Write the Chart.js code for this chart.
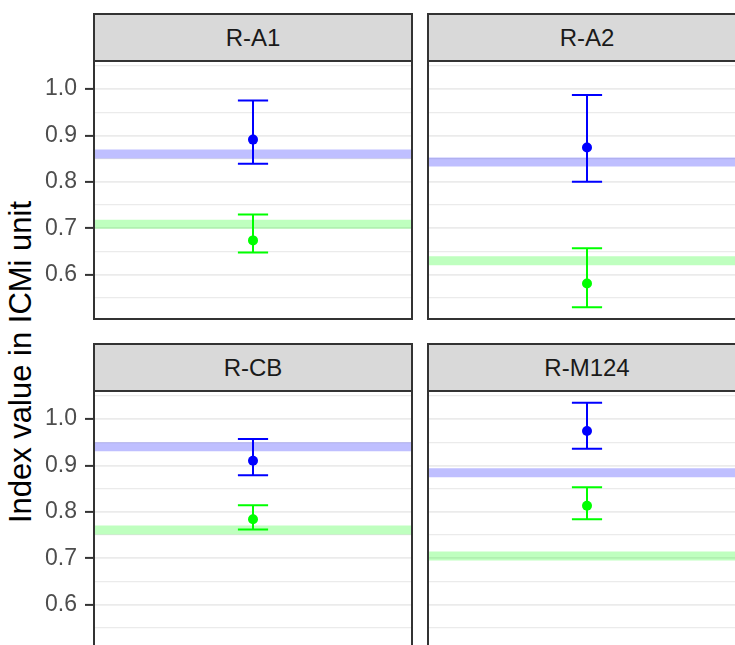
<!DOCTYPE html>
<html><head><meta charset="utf-8">
<script src="https://cdn.jsdelivr.net/npm/chart.js@4.4.1/dist/chart.umd.min.js"></script>
<style>
html,body{margin:0;padding:0;width:735px;height:645px;overflow:hidden;background:#fff;position:relative;}
.strip{position:absolute;box-sizing:border-box;background:#D9D9D9;border:2px solid #333;color:#1A1A1A;font:24px "Liberation Sans",Arial,sans-serif;display:flex;align-items:center;justify-content:center;}
canvas{position:absolute;}
#ytitle{position:absolute;left:21px;top:362px;transform:translate(-50%,-50%) rotate(-90deg);white-space:nowrap;font:31px "Liberation Sans",Arial,sans-serif;color:#000;}
</style></head><body>
<div id="ytitle">Index value in ICMi unit</div>
<script>
// ---- data ----
const PANELS = ["R-A1", "R-A2", "R-CB", "R-M124"];
const BLUE_MEAN  = [0.891, 0.874, 0.910, 0.974];
const BLUE_LOW   = [0.839, 0.800, 0.879, 0.936];
const BLUE_HIGH  = [0.975, 0.987, 0.957, 1.035];
const BLUE_REF   = [0.860, 0.843, 0.940, 0.884];
const GREEN_MEAN = [0.674, 0.581, 0.784, 0.813];
const GREEN_LOW  = [0.648, 0.530, 0.762, 0.784];
const GREEN_HIGH = [0.730, 0.657, 0.814, 0.853];
const GREEN_REF  = [0.709, 0.630, 0.761, 0.705];
const GRID_TICKS  = [0.55, 0.60, 0.65, 0.70, 0.75, 0.80, 0.85, 0.90, 0.95, 1.00, 1.05];
const MAJOR_TICKS = [0.6, 0.7, 0.8, 0.9, 1.0];
const TICK_LABELS = ["0.6", "0.7", "0.8", "0.9", "1.0"];

// shared y limits (ggplot-style 5% expansion of data range)
const allVals = [].concat(BLUE_LOW, BLUE_HIGH, BLUE_REF, GREEN_LOW, GREEN_HIGH, GREEN_REF);
const dMin = Math.min(...allVals), dMax = Math.max(...allVals);
const YMIN = dMin - 0.05 * (dMax - dMin), YMAX = dMax + 0.05 * (dMax - dMin);

// ---- layout ----
const PANEL_LEFT = [94, 428], PANEL_TOP = [61, 391], PANEL_W = 318, PANEL_H = 258, STRIP_H = 48;
const FONT = "'Liberation Sans', Arial, sans-serif";
const isMajor = v => MAJOR_TICKS.some(m => Math.abs(m - v) < 1e-9);

const errorBarPlugin = {
  id: 'errbars',
  afterDatasetsDraw(chart) {
    const i = chart.options.plugins.errbars.panel;
    const xs = chart.scales.x, ys = chart.scales.y, ctx = chart.ctx;
    const series = [
      {c: '#0000FF', lo: BLUE_LOW[i], hi: BLUE_HIGH[i]},
      {c: '#00FF00', lo: GREEN_LOW[i], hi: GREEN_HIGH[i]}
    ];
    const xc = xs.getPixelForValue(1), x0 = xs.getPixelForValue(1 - 0.057), x1 = xs.getPixelForValue(1 + 0.057);
    ctx.save();
    series.forEach(s => {
      const yl = ys.getPixelForValue(s.lo), yh = ys.getPixelForValue(s.hi);
      ctx.strokeStyle = s.c; ctx.lineWidth = 2;
      ctx.beginPath();
      ctx.moveTo(xc, yl); ctx.lineTo(xc, yh);
      ctx.moveTo(x0, yl); ctx.lineTo(x1, yl);
      ctx.moveTo(x0, yh); ctx.lineTo(x1, yh);
      ctx.stroke();
    });
    // panel border
    const a = chart.chartArea;
    ctx.strokeStyle = '#333333'; ctx.lineWidth = 2;
    ctx.strokeRect(a.left, a.top, a.right - a.left, a.bottom - a.top);
    ctx.restore();
  }
};

PANELS.forEach((name, i) => {
  const col = i % 2, row = Math.floor(i / 2);
  const pl = PANEL_LEFT[col], pt = PANEL_TOP[row];
  // strip
  const strip = document.createElement('div');
  strip.className = 'strip';
  strip.style.left = (pl - 1) + 'px';
  strip.style.top = (pt - STRIP_H) + 'px';
  strip.style.width = (PANEL_W + 2) + 'px';
  strip.style.height = (STRIP_H + 1) + 'px';
  strip.textContent = name;
  document.body.appendChild(strip);
  // canvas
  const cv = document.createElement('canvas');
  const axisW = col === 0 ? pl : 0;
  const cLeft = col === 0 ? 0 : pl - 2;
  const padL = col === 0 ? 0 : 2;
  const cw = axisW + padL + PANEL_W + 2, ch = PANEL_H + 2;
  cv.width = cw; cv.height = ch;
  cv.style.left = cLeft + 'px'; cv.style.top = (pt - 1) + 'px';
  cv.style.width = cw + 'px'; cv.style.height = ch + 'px';
  document.body.appendChild(cv);

  new Chart(cv, {
    data: {
      datasets: [
        {type: 'scatter', data: [{x: 1, y: BLUE_MEAN[i]}], backgroundColor: '#0000FF', borderWidth: 0, pointRadius: 5},
        {type: 'scatter', data: [{x: 1, y: GREEN_MEAN[i]}], backgroundColor: '#00FF00', borderWidth: 0, pointRadius: 5},
        {type: 'line', data: [{x: 0.4, y: BLUE_REF[i]}, {x: 1.6, y: BLUE_REF[i]}], borderColor: 'rgba(0,0,255,0.25)', borderWidth: 9, pointRadius: 0, fill: false},
        {type: 'line', data: [{x: 0.4, y: GREEN_REF[i]}, {x: 1.6, y: GREEN_REF[i]}], borderColor: 'rgba(0,255,0,0.25)', borderWidth: 9, pointRadius: 0, fill: false}
      ]
    },
    options: {
      responsive: false, animation: false, events: [],
      layout: {autoPadding: false, padding: {left: padL, right: 2, top: 1, bottom: 1}},
      plugins: {legend: {display: false}, tooltip: {enabled: false}, errbars: {panel: i}},
      scales: {
        x: {type: 'linear', min: 0.4, max: 1.6, display: false},
        y: {
          type: 'linear', min: YMIN, max: YMAX,
          afterBuildTicks: s => { s.ticks = GRID_TICKS.map(v => ({value: v})); },
          afterFit: s => { s.width = axisW; s.paddingTop = 0; s.paddingBottom = 0; },
          border: {display: false},
          grid: {
            color: '#EBEBEB',
            lineWidth: c => isMajor(c.tick.value) ? 1.8 : 1.3,
            drawTicks: col === 0,
            tickLength: 9, tickWidth: 2,
            tickColor: c => isMajor(c.tick.value) ? '#333333' : 'rgba(0,0,0,0)'
          },
          ticks: {
            display: col === 0, autoSkip: false, padding: 8, color: '#4D4D4D',
            font: {family: FONT, size: 23},
            callback: v => { const k = MAJOR_TICKS.findIndex(m => Math.abs(m - v) < 1e-9); return k >= 0 ? TICK_LABELS[k] : ''; }
          }
        }
      }
    },
    plugins: [errorBarPlugin]
  });
});
</script>
</body></html>
